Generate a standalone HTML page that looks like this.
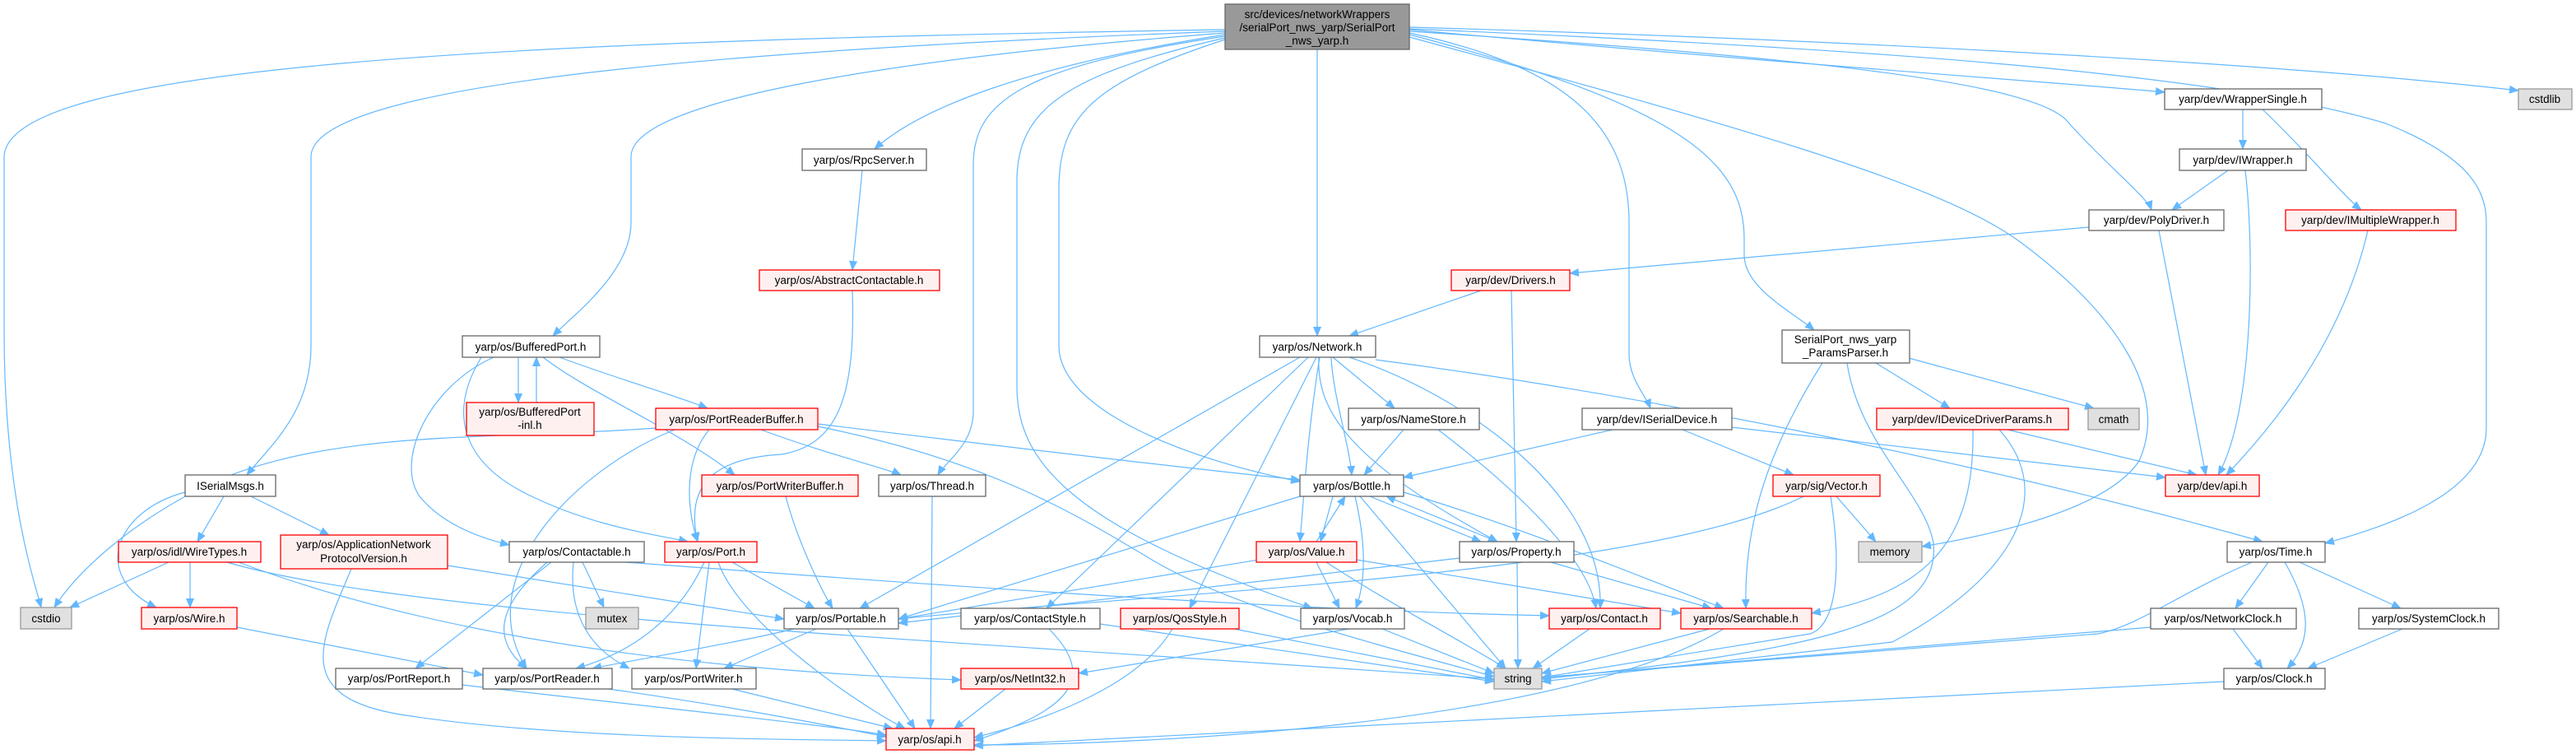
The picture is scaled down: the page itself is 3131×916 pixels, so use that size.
<!DOCTYPE html>
<html><head><meta charset="utf-8"><style>
html,body{margin:0;padding:0;background:#fff;}
svg{display:block;}
text{font-family:"Liberation Sans",sans-serif;font-size:13.5px;fill:#000;text-anchor:middle;}
.e{fill:none;stroke:#63b8ff;stroke-width:1.2;}
.n{fill:#fff;stroke:#666;stroke-width:1.3;}
.r{fill:#fff0f0;stroke:#ff0000;stroke-width:1.3;}
.g{fill:#e0e0e0;stroke:#999;stroke-width:1.3;}
.m{fill:#999;stroke:#666;stroke-width:1.3;}
</style></head><body>
<svg width="3131" height="916" viewBox="0 0 3131 916" xmlns="http://www.w3.org/2000/svg">
<defs><marker id="a" markerWidth="12" markerHeight="10" refX="11" refY="5" orient="auto" markerUnits="userSpaceOnUse"><path d="M0,0 L12,5 L0,10 z" fill="#63b8ff"/></marker></defs>
<g class="e" marker-end="url(#a)">
<path d="M1489,36 C600,50 10,80 5,190 L5,400 C5,600 40,700 50,738"/>
<path d="M1489,38 C900,60 380,100 378,190 L378,420 C378,500 330,540 300,577"/>
<path d="M1489,40 C1100,70 768,120 767,190 L767,270 C767,330 700,380 672,408"/>
<path d="M1489,42 C1250,80 1120,130 1063,181"/>
<path d="M1489,44 C1250,80 1183,120 1183,200 L1183,500 C1183,540 1150,560 1140,577"/>
<path d="M1489,46 C1300,90 1236,130 1236,220 L1236,470 C1236,560 1300,640 1595,739"/>
<path d="M1489,48 C1330,100 1287,140 1287,230 L1287,420 C1287,500 1450,560 1580,585"/>
<path d="M1601,60 L1601,408"/>
<path d="M1713,40 C1900,80 1980,150 1980,270 L1980,430 C1980,460 2000,480 2006,496"/>
<path d="M1713,42 C2050,130 2120,200 2120,290 L2120,310 C2120,350 2180,380 2205,401"/>
<path d="M1713,45 C2100,150 2350,220 2450,290 C2560,370 2640,470 2600,560 C2560,620 2420,650 2336,664"/>
<path d="M1713,38 C2200,70 2480,100 2515,150 C2560,200 2610,240 2615,255"/>
<path d="M1713,36 C2200,80 2500,100 2631,112"/>
<path d="M1713,33 C2300,50 2800,80 3061,110"/>
<path d="M1713,35 C2300,60 2700,90 2900,150 C3000,190 3022,230 3022,270 L3022,520 C3022,600 2900,640 2826,660"/>
<path d="M2539,276 L1908,332"/>
<path d="M630,434 L630,489"/>
<path d="M652,489 L652,434"/>
<path d="M680,434 C750,460 820,480 860,496"/>
<path d="M660,434 C720,480 820,520 893,577"/>
<path d="M585,434 C545,500 560,560 640,600 C720,640 800,650 836,658"/>
<path d="M600,434 C520,470 480,560 510,603 C540,640 590,655 619,662"/>
<path d="M797,520 C600,535 400,520 250,590 C150,640 90,700 66,738"/>
<path d="M925,522 C1000,550 1080,570 1095,577"/>
<path d="M994,515 C1200,540 1450,570 1580,583"/>
<path d="M994,518 C1200,560 1300,620 1400,680 C1500,740 1700,790 1816,822"/>
<path d="M862,522 C830,560 835,620 848,658"/>
<path d="M820,522 C700,570 570,700 640,812"/>
<path d="M955,603 C970,660 1000,720 1012,739"/>
<path d="M1133,603 L1131,885"/>
<path d="M1036,353 C1040,480 1020,540 950,552 C880,556 830,580 848,658"/>
<path d="M1048,207 L1036,328"/>
<path d="M225,598 C140,620 110,700 190,738"/>
<path d="M272,603 L240,658"/>
<path d="M305,603 L400,650"/>
<path d="M205,683 L85,738"/>
<path d="M231,683 L231,738"/>
<path d="M276,683 C500,750 1200,780 1816,825"/>
<path d="M290,683 C600,800 1000,820 1168,826"/>
<path d="M544,687 L953,752"/>
<path d="M427,691 C390,780 350,850 500,870 C700,900 1000,898 1077,900"/>
<path d="M288,762 L587,820"/>
<path d="M670,683 L505,812"/>
<path d="M665,683 C600,740 600,780 640,812"/>
<path d="M697,683 C690,750 720,790 765,812"/>
<path d="M708,683 L734,738"/>
<path d="M760,683 C1000,700 1500,740 1883,748"/>
<path d="M890,683 L990,739"/>
<path d="M862,683 L846,812"/>
<path d="M856,683 C830,740 780,790 700,812"/>
<path d="M873,683 C900,760 1050,860 1100,885"/>
<path d="M965,764 C900,780 780,800 720,812"/>
<path d="M992,764 L880,812"/>
<path d="M1030,764 L1112,885"/>
<path d="M562,832 C800,860 1000,880 1077,893"/>
<path d="M740,837 C900,860 1000,880 1077,895"/>
<path d="M890,837 L1085,885"/>
<path d="M1222,837 L1160,885"/>
<path d="M1337,758 L1816,828"/>
<path d="M1275,764 C1330,820 1310,860 1184,900"/>
<path d="M1425,764 C1380,840 1250,880 1184,896"/>
<path d="M1500,764 L1816,826"/>
<path d="M1580,434 L1045,739"/>
<path d="M1590,434 L1272,739"/>
<path d="M1600,434 L1446,739"/>
<path d="M1604,434 C1590,520 1585,600 1580,658"/>
<path d="M1618,434 C1620,480 1640,540 1643,577"/>
<path d="M1620,434 L1695,496"/>
<path d="M1603,434 C1600,500 1640,560 1820,658"/>
<path d="M1640,434 C1780,480 1950,600 1945,739"/>
<path d="M1672,437 C2000,480 2400,560 2750,658"/>
<path d="M1706,522 L1658,577"/>
<path d="M1748,522 C1850,600 1930,680 1940,739"/>
<path d="M1960,522 L1706,580"/>
<path d="M2045,522 L2180,577"/>
<path d="M2105,519 L2632,580"/>
<path d="M2440,522 L2670,577"/>
<path d="M2398,522 C2400,650 2350,720 2202,745"/>
<path d="M2430,522 C2500,600 2450,700 2300,780 L1874,828"/>
<path d="M2320,435 L2545,496"/>
<path d="M2280,441 L2370,496"/>
<path d="M2215,441 C2140,560 2120,650 2122,739"/>
<path d="M2245,441 C2260,540 2340,600 2350,660 C2360,760 2200,790 1874,825"/>
<path d="M2192,603 C2000,700 1400,720 1092,752"/>
<path d="M2232,603 L2280,658"/>
<path d="M2225,603 C2240,700 2230,760 2200,770 L1874,823"/>
<path d="M1620,603 L1605,658"/>
<path d="M1600,658 L1635,603"/>
<path d="M1665,603 L1800,658"/>
<path d="M1820,658 L1685,603"/>
<path d="M1590,600 L1092,752"/>
<path d="M1706,598 C1850,640 1990,700 2095,739"/>
<path d="M1653,603 L1830,812"/>
<path d="M1647,603 C1665,680 1655,720 1648,739"/>
<path d="M1600,683 L1628,739"/>
<path d="M1530,680 L1092,752"/>
<path d="M1612,683 C1700,740 1780,780 1830,812"/>
<path d="M1649,680 L2043,745"/>
<path d="M1774,678 L1092,757"/>
<path d="M1844,683 L1845,812"/>
<path d="M1885,683 L2080,739"/>
<path d="M1680,764 L1816,818"/>
<path d="M1640,764 L1311,818"/>
<path d="M1932,764 L1863,812"/>
<path d="M2078,764 L1874,818"/>
<path d="M2095,764 C1900,880 1400,905 1184,905"/>
<path d="M1800,353 L1640,408"/>
<path d="M1837,353 L1843,658"/>
<path d="M2624,280 L2681,577"/>
<path d="M2726,133 L2726,181"/>
<path d="M2750,133 C2800,180 2850,240 2870,255"/>
<path d="M2708,207 L2640,255"/>
<path d="M2729,207 C2740,300 2740,500 2696,577"/>
<path d="M2878,280 C2850,400 2780,500 2706,577"/>
<path d="M2757,683 L2717,739"/>
<path d="M2795,683 L2918,739"/>
<path d="M2777,683 C2810,740 2810,780 2780,812"/>
<path d="M2737,683 C2650,720 2600,760 2550,770 L1874,823"/>
<path d="M2714,764 L2750,812"/>
<path d="M2614,762 L1874,823"/>
<path d="M2920,764 L2805,812"/>
<path d="M2703,828 L1184,906"/>
</g>
<g>
<rect class="m" x="1489" y="5" width="224" height="55"/>
<text x="1601" y="22">src/devices/networkWrappers</text>
<text x="1601" y="38">/serialPort_nws_yarp/SerialPort</text>
<text x="1601" y="54">_nws_yarp.h</text>
<rect class="g" x="3061" y="108" width="65" height="25"/><text x="3093" y="125">cstdlib</text>
<rect class="n" x="2631" y="108" width="191" height="25"/><text x="2726" y="125">yarp/dev/WrapperSingle.h</text>
<rect class="n" x="975" y="181" width="151" height="26"/><text x="1050" y="199">yarp/os/RpcServer.h</text>
<rect class="n" x="2649" y="181" width="154" height="26"/><text x="2726" y="199">yarp/dev/IWrapper.h</text>
<rect class="n" x="2539" y="255" width="164" height="25"/><text x="2621" y="272">yarp/dev/PolyDriver.h</text>
<rect class="r" x="2778" y="255" width="207" height="25"/><text x="2881" y="272">yarp/dev/IMultipleWrapper.h</text>
<rect class="r" x="923" y="328" width="219" height="25"/><text x="1032" y="345">yarp/os/AbstractContactable.h</text>
<rect class="r" x="1764" y="328" width="144" height="25"/><text x="1836" y="345">yarp/dev/Drivers.h</text>
<rect class="n" x="562" y="408" width="167" height="26"/><text x="645" y="426">yarp/os/BufferedPort.h</text>
<rect class="n" x="1531" y="408" width="141" height="26"/><text x="1601" y="426">yarp/os/Network.h</text>
<rect class="n" x="2166" y="401" width="155" height="40"/><text x="2243" y="417">SerialPort_nws_yarp</text><text x="2243" y="433">_ParamsParser.h</text>
<rect class="r" x="567" y="489" width="155" height="40"/><text x="644" y="505">yarp/os/BufferedPort</text><text x="644" y="521">-inl.h</text>
<rect class="r" x="797" y="496" width="197" height="26"/><text x="895" y="514">yarp/os/PortReaderBuffer.h</text>
<rect class="n" x="1639" y="496" width="159" height="26"/><text x="1718" y="514">yarp/os/NameStore.h</text>
<rect class="n" x="1923" y="496" width="182" height="26"/><text x="2014" y="514">yarp/dev/ISerialDevice.h</text>
<rect class="r" x="2281" y="496" width="233" height="26"/><text x="2397" y="514">yarp/dev/IDeviceDriverParams.h</text>
<rect class="g" x="2538" y="496" width="62" height="26"/><text x="2569" y="514">cmath</text>
<rect class="n" x="225" y="577" width="110" height="26"/><text x="280" y="595">ISerialMsgs.h</text>
<rect class="r" x="853" y="577" width="190" height="26"/><text x="948" y="595">yarp/os/PortWriterBuffer.h</text>
<rect class="n" x="1068" y="577" width="130" height="26"/><text x="1133" y="595">yarp/os/Thread.h</text>
<rect class="n" x="1580" y="577" width="126" height="26"/><text x="1643" y="595">yarp/os/Bottle.h</text>
<rect class="r" x="2155" y="577" width="130" height="26"/><text x="2220" y="595">yarp/sig/Vector.h</text>
<rect class="r" x="2632" y="577" width="114" height="26"/><text x="2689" y="595">yarp/dev/api.h</text>
<rect class="r" x="144" y="658" width="173" height="25"/><text x="230" y="675">yarp/os/idl/WireTypes.h</text>
<rect class="r" x="341" y="650" width="203" height="41"/><text x="442" y="666">yarp/os/ApplicationNetwork</text><text x="442" y="683">ProtocolVersion.h</text>
<rect class="n" x="619" y="658" width="164" height="25"/><text x="701" y="675">yarp/os/Contactable.h</text>
<rect class="r" x="808" y="658" width="112" height="25"/><text x="864" y="675">yarp/os/Port.h</text>
<rect class="r" x="1527" y="658" width="122" height="25"/><text x="1588" y="675">yarp/os/Value.h</text>
<rect class="n" x="1774" y="658" width="139" height="25"/><text x="1843" y="675">yarp/os/Property.h</text>
<rect class="g" x="2259" y="658" width="77" height="25"/><text x="2297" y="675">memory</text>
<rect class="n" x="2707" y="658" width="119" height="25"/><text x="2766" y="675">yarp/os/Time.h</text>
<rect class="g" x="25" y="738" width="62" height="26"/><text x="56" y="756">cstdio</text>
<rect class="r" x="172" y="738" width="116" height="26"/><text x="230" y="756">yarp/os/Wire.h</text>
<rect class="g" x="712" y="738" width="64" height="26"/><text x="744" y="756">mutex</text>
<rect class="n" x="953" y="739" width="139" height="25"/><text x="1022" y="756">yarp/os/Portable.h</text>
<rect class="n" x="1168" y="739" width="169" height="25"/><text x="1252" y="756">yarp/os/ContactStyle.h</text>
<rect class="r" x="1362" y="739" width="144" height="25"/><text x="1434" y="756">yarp/os/QosStyle.h</text>
<rect class="n" x="1581" y="739" width="126" height="25"/><text x="1644" y="756">yarp/os/Vocab.h</text>
<rect class="r" x="1883" y="739" width="135" height="25"/><text x="1950" y="756">yarp/os/Contact.h</text>
<rect class="r" x="2043" y="739" width="159" height="25"/><text x="2122" y="756">yarp/os/Searchable.h</text>
<rect class="n" x="2614" y="739" width="177" height="25"/><text x="2702" y="756">yarp/os/NetworkClock.h</text>
<rect class="n" x="2867" y="739" width="170" height="25"/><text x="2952" y="756">yarp/os/SystemClock.h</text>
<rect class="n" x="408" y="812" width="154" height="25"/><text x="485" y="829">yarp/os/PortReport.h</text>
<rect class="n" x="587" y="812" width="157" height="25"/><text x="665" y="829">yarp/os/PortReader.h</text>
<rect class="n" x="768" y="812" width="151" height="25"/><text x="843" y="829">yarp/os/PortWriter.h</text>
<rect class="r" x="1168" y="812" width="143" height="25"/><text x="1240" y="829">yarp/os/NetInt32.h</text>
<rect class="g" x="1816" y="812" width="58" height="25"/><text x="1845" y="829">string</text>
<rect class="n" x="2703" y="812" width="123" height="25"/><text x="2764" y="829">yarp/os/Clock.h</text>
<rect class="r" x="1077" y="885" width="107" height="26"/><text x="1130" y="903">yarp/os/api.h</text>
</g>
</svg>
</body></html>
